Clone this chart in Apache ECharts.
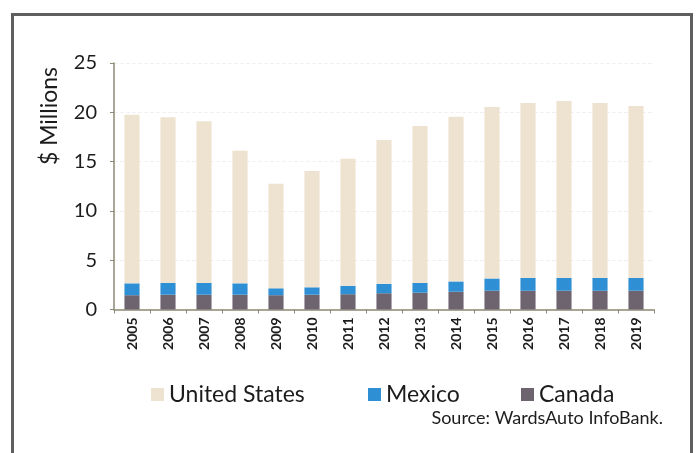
<!DOCTYPE html>
<html>
<head>
<meta charset="utf-8">
<script src="https://cdn.jsdelivr.net/npm/echarts@6/dist/echarts.min.js"></script>
<style>
  html, body { margin: 0; padding: 0; background: #ffffff; }
  #chart { width: 697px; height: 453px; }
</style>
</head>
<body>
<div id="chart"></div>
<script>
// Light-vehicle sales by country, millions of units
const years = ['2005','2006','2007','2008','2009','2010','2011','2012','2013','2014','2015','2016','2017','2018','2019'];
const canada = [1.45, 1.5, 1.5, 1.5, 1.45, 1.5, 1.55, 1.65, 1.7, 1.8, 1.9, 1.9, 1.9, 1.9, 1.9];
const mexico = [1.2, 1.2, 1.2, 1.15, 0.7, 0.75, 0.85, 0.95, 1.0, 1.05, 1.25, 1.3, 1.3, 1.3, 1.3];
const unitedStates = [17.1, 16.8, 16.4, 13.45, 10.6, 11.8, 12.9, 14.6, 15.9, 16.7, 17.4, 17.75, 17.95, 17.75, 17.45];
const yTicks = [0, 5, 10, 15, 20, 25];

const FONT = 'Lato, "Noto Sans", sans-serif';
const TEXT = '#1c1c1c';
const COLORS = { us: '#eee3d1', mx: '#2f8fd5', ca: '#6e6470' };

const chart = echarts.init(document.getElementById('chart'), null, { renderer: 'canvas' });

function legendFor(name, left) {
  return {
    data: [name],
    left: left,
    top: 378,
    icon: 'rect',
    itemWidth: 13,
    itemHeight: 13,
    selectedMode: false,
    textStyle: { fontFamily: FONT, fontSize: 23, color: TEXT, padding: [0, 0, 0, 0] }
  };
}

chart.setOption({
  animation: false,
  backgroundColor: '#ffffff',
  grid: { left: 114, right: 43, top: 63, bottom: 143.5 },
  xAxis: {
    type: 'category',
    data: years,
    boundaryGap: true,
    axisLine: { show: true, lineStyle: { color: '#8c8a74', width: 1.5 } },
    axisTick: { show: true, length: 4, inside: false, lineStyle: { color: '#8c8a74' } },
    axisLabel: {
      rotate: 90,
      margin: 8,
      fontFamily: FONT,
      fontSize: 14,
      fontWeight: 'bold',
      color: TEXT
    }
  },
  yAxis: {
    type: 'value',
    min: yTicks[0],
    max: yTicks[yTicks.length - 1],
    interval: yTicks[1] - yTicks[0],
    axisLine: { show: true, lineStyle: { color: '#8c8a74', width: 1.5 } },
    axisTick: { show: true, length: 4, lineStyle: { color: '#8c8a74' } },
    axisLabel: { margin: 17, fontFamily: FONT, fontSize: 20, color: TEXT },
    splitLine: { show: true, lineStyle: { color: '#f1f1f1', type: 'dashed' } }
  },
  legend: [
    legendFor('United States', 146),
    legendFor('Mexico', 363),
    legendFor('Canada', 516)
  ],
  graphic: [
    {
      type: 'rect',
      silent: true,
      shape: { x: 12.5, y: 14.5, width: 679, height: 460 },
      style: { fill: 'none', stroke: '#5f5f5f', lineWidth: 3 }
    },
    {
      type: 'text',
      silent: true,
      x: 50,
      y: 116,
      rotation: Math.PI / 2,
      style: {
        text: '$ Millions',
        fontFamily: FONT,
        fontSize: 23,
        fill: TEXT,
        align: 'center',
        verticalAlign: 'middle'
      }
    },
    {
      type: 'text',
      silent: true,
      x: 663,
      y: 418,
      style: {
        text: 'Source: WardsAuto InfoBank.',
        fontFamily: FONT,
        fontSize: 18,
        fill: TEXT,
        align: 'right',
        verticalAlign: 'middle'
      }
    }
  ],
  series: [
    {
      name: 'Canada',
      type: 'bar',
      stack: 'total',
      barWidth: '42%',
      itemStyle: { color: COLORS.ca },
      data: canada
    },
    {
      name: 'Mexico',
      type: 'bar',
      stack: 'total',
      barWidth: '42%',
      itemStyle: { color: COLORS.mx },
      data: mexico
    },
    {
      name: 'United States',
      type: 'bar',
      stack: 'total',
      barWidth: '42%',
      itemStyle: { color: COLORS.us },
      data: unitedStates
    }
  ]
});
</script>
</body>
</html>
